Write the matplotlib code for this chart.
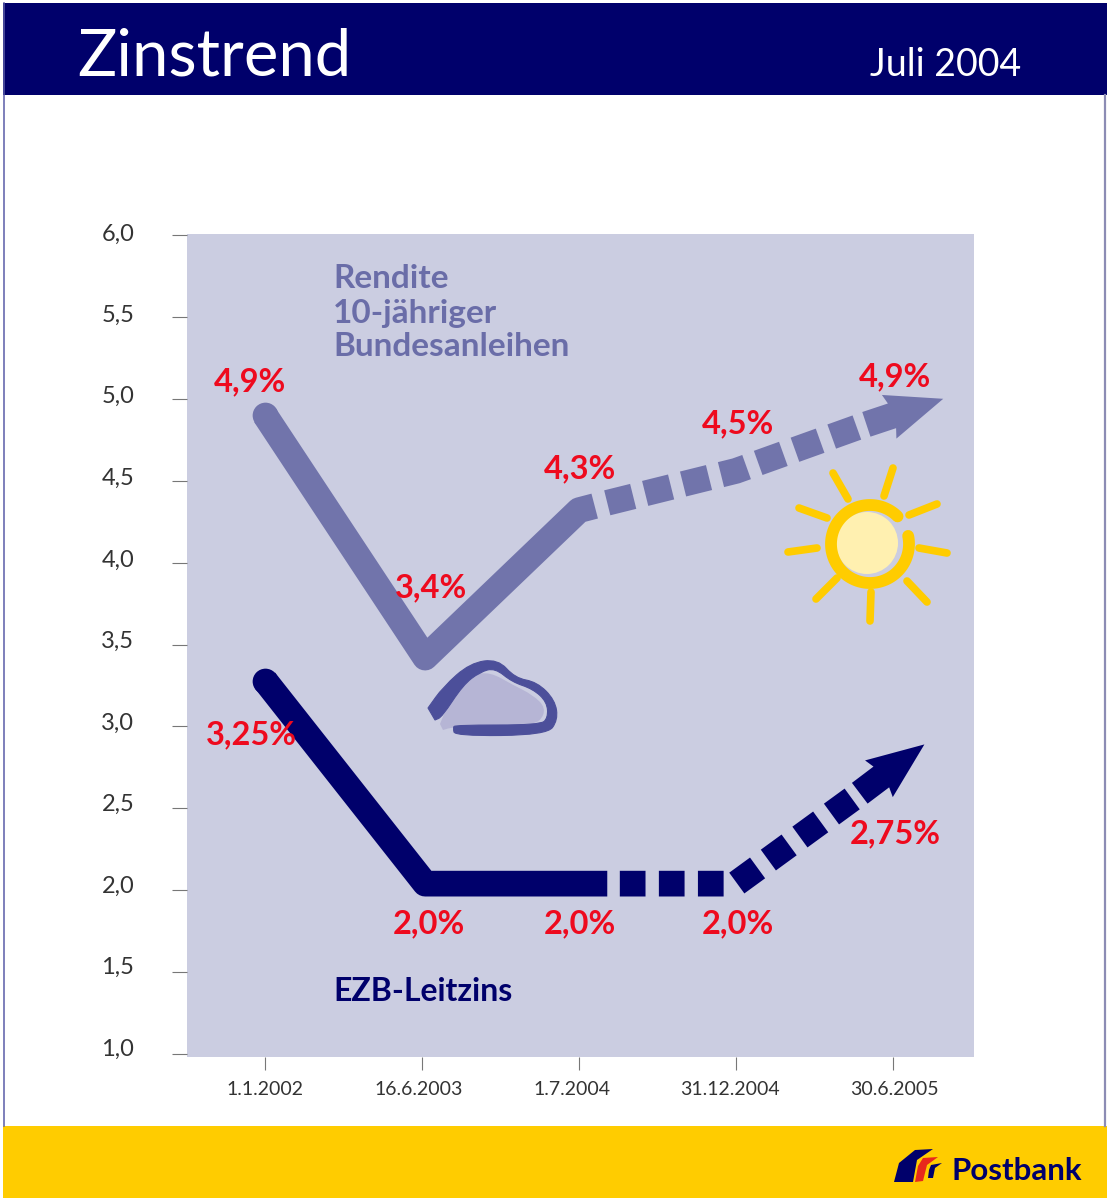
import matplotlib
matplotlib.use("Agg")
import matplotlib.pyplot as plt
import matplotlib.patches as patches
from matplotlib.path import Path
from matplotlib.transforms import IdentityTransform, ScaledTranslation
import numpy as np

W, H = 1109, 1200
FONT = ['Lato', 'DejaVu Sans']

# colours
NAVY = '#00006B'
YIELD_COL = '#7174AB'
PANEL = '#CBCDE1'
RED = '#EE0A1E'
YELLOW = '#FFCC00'

# axis
y_ticks = [1.0, 1.5, 2.0, 2.5, 3.0, 3.5, 4.0, 4.5, 5.0, 5.5, 6.0]
y_tick_labels = ['1,0', '1,5', '2,0', '2,5', '3,0', '3,5', '4,0', '4,5', '5,0', '5,5', '6,0']
y_label_shift = [7, 6.5, 6, 5.5, 5, 5, 4.5, 4, 4, 3.5, 3]
dates = ['1.1.2002', '16.6.2003', '1.7.2004', '31.12.2004', '30.6.2005']
date_pos = [0, 1, 2, 3, 4]
date_shift = [0, -3, -7, -6, 1]

# 10-year yield, as drawn (labels carry the printed numbers)
yield_solid_x = [0, 1.02, 2, 2.1]
yield_solid_y = [4.9, 3.42, 4.32, 4.345]
yield_dash_x = [2.18, 3, 3.78]
yield_dash_y = [4.365, 4.56, 4.828]
yield_tip = (4.32, 5.0)
yield_pts_x = [0, 1.02, 2, 3, 4]
yield_pts_y = [4.9, 3.42, 4.32, 4.56, 4.9]
yield_labels = ['4,9%', '3,4%', '4,3%', '4,5%', '4,9%']
yield_offsets = [(-15, 33), (6, 70), (1, 41), (2, 47), (2, 38)]

# ECB rate
ecb_solid_x = [0, 1.02, 2.18]
ecb_solid_y = [3.28, 2.04, 2.04]
ecb_dash_x = [2.26, 3, 3.74]
ecb_dash_y = [2.04, 2.04, 2.557]
ecb_tip = (4.2, 2.89)
ecb_pts_x = [0, 1.02, 2, 3, 4]
ecb_pts_y = [3.28, 2.04, 2.04, 2.04, 2.74]
ecb_labels = ['3,25%', '2,0%', '2,0%', '2,0%', '2,75%']
ecb_offsets = [(-14, -54), (4, -40), (1, -40), (2, -40), (2, -65)]


def arrow_head(ax, tail, tip, color, length=57, width=46, shaft=26, shaft_len=24):
    # head built in pixels so it stays the same shape whatever the axis scale
    a = ax.transData.transform(tail)
    b = ax.transData.transform(tip)
    d = (b - a) / np.hypot(*(b - a))
    n = np.array([-d[1], d[0]])
    neck = b - d * length
    notch = neck + d * 3
    back = neck - d * shaft_len
    pts = [b, neck + n * width / 2, notch + n * shaft / 2, back + n * shaft / 2,
           back - n * shaft / 2, notch - n * shaft / 2, neck - n * width / 2]
    ax.add_patch(patches.Polygon(pts, closed=True, facecolor=color, edgecolor='none',
                                 transform=IdentityTransform(), zorder=3))


def smooth(pts, closed=False):
    # quadratic curve through the midpoints of a rough outline
    pts = np.array(pts, float)
    mids = (pts[:-1] + pts[1:]) / 2
    verts = [pts[0], mids[0]]
    codes = [Path.MOVETO, Path.LINETO]
    for p, m in zip(pts[1:-1], mids[1:]):
        verts += [p, m]
        codes += [Path.CURVE3, Path.CURVE3]
    verts.append(pts[-1])
    codes.append(Path.LINETO)
    if closed:
        verts.append(pts[0])
        codes.append(Path.CLOSEPOLY)
    return Path(verts, codes)


fig = plt.figure(figsize=(W / 100, H / 100), dpi=100, facecolor='white')

# ---- chart ----
ax = fig.add_axes([187 / W, (H - 1057) / H, 787 / W, 823 / H], facecolor=PANEL)
ax.set_xlim((187 - 265) / 157, (974 - 265) / 157)
ax.set_ylim(6 - (1057 - 235) / 163.8, 6 + 1 / 163.8)
for s in ax.spines.values():
    s.set_visible(False)

ax.set_yticks(y_ticks)
ax.set_yticklabels(y_tick_labels, fontsize=17, color='#333333', family=FONT)
ax.set_xticks(date_pos)
ax.set_xticklabels(dates, fontsize=14, color='#333333', family=FONT)
ax.tick_params(axis='y', length=11, width=0.8, color='#777777', pad=27)
ax.tick_params(axis='x', length=9, width=0.8, color='#777777', pad=8)
for lab, dx in zip(ax.get_xticklabels(), date_shift):
    lab.set_transform(lab.get_transform() + ScaledTranslation(dx / 100, 0, fig.dpi_scale_trans))
for lab, dy in zip(ax.get_yticklabels(), y_label_shift):
    lab.set_transform(lab.get_transform() + ScaledTranslation(0, dy / 100, fig.dpi_scale_trans))

LW = 18.5
for xs, ys, col in [(yield_solid_x, yield_solid_y, YIELD_COL), (ecb_solid_x, ecb_solid_y, NAVY)]:
    ax.plot(xs, ys, color=col, lw=LW, solid_capstyle='butt', solid_joinstyle='round', zorder=2)
    ax.plot(xs[:1], ys[:1], 'o', color=col, ms=LW, mew=0, zorder=2)
ax.plot(yield_dash_x, yield_dash_y, color=YIELD_COL, lw=LW, dashes=(1.04, 0.48),
        dash_capstyle='butt', dash_joinstyle='miter', zorder=2)
ax.plot(ecb_dash_x, ecb_dash_y, color=NAVY, lw=LW, dashes=(1.0, 0.52),
        dash_capstyle='butt', dash_joinstyle='miter', zorder=2)
arrow_head(ax, (yield_dash_x[-1], yield_dash_y[-1]), yield_tip, YIELD_COL)
arrow_head(ax, (ecb_dash_x[-1], ecb_dash_y[-1]), ecb_tip, NAVY)

for x, y, t, off in zip(yield_pts_x, yield_pts_y, yield_labels, yield_offsets):
    ax.annotate(t, (x, y), xytext=off, textcoords='offset pixels', ha='center', va='center',
                color=RED, fontsize=23.5, fontweight='bold', family=FONT, zorder=5)
for x, y, t, off in zip(ecb_pts_x, ecb_pts_y, ecb_labels, ecb_offsets):
    ax.annotate(t, (x, y), xytext=off, textcoords='offset pixels', ha='center', va='center',
                color=RED, fontsize=23.5, fontweight='bold', family=FONT, zorder=5)

# ---- everything around the chart, in image pixels ----
deco = fig.add_axes([0, 0, 1, 1], zorder=3)
deco.patch.set_alpha(0)
deco.set_xlim(0, W)
deco.set_ylim(H, 0)
deco.axis('off')

deco.add_patch(patches.Rectangle((3, 3), 1104, 92, facecolor=NAVY, edgecolor='none'))
deco.add_patch(patches.Rectangle((3, 1126), 1104, 72, facecolor=YELLOW, edgecolor='none'))
deco.plot([3.5, 3.5], [3, 1126], color='#5A5CA8', lw=1.1)
deco.plot([1105, 1105], [95, 1126], color='#8C8CB4', lw=1.6)

deco.text(77, 76, 'Zinstrend', color='white', fontsize=47, family=FONT, va='baseline')
deco.text(1021, 76, 'Juli 2004', color='white', fontsize=27, family=FONT, va='baseline', ha='right')

for txt, yy in [('Rendite', 288), ('10-jähriger', 323), ('Bundesanleihen', 356)]:
    deco.text(333, yy, txt, color='#6A6DA8', fontsize=24, fontweight='bold', family=FONT, va='baseline')
deco.text(333, 1001, 'EZB-Leitzins', color=NAVY, fontsize=23, fontweight='bold', family=FONT, va='baseline')

# cloud
cloud_fill = [(440, 724), (451, 697), (472, 675), (490, 672), (513, 685), (533, 695),
              (546, 708), (540, 722), (527, 724), (453, 727), (443, 730)]
cloud_line = [(428, 708), (443, 687), (470, 663), (498, 659), (515, 678), (537, 682),
              (555, 700), (558, 720), (547, 735), (455, 736), (453, 728), (455, 725),
              (540, 725), (548, 718), (547, 702), (533, 689), (512, 682), (495, 668),
              (480, 672), (463, 685), (442, 717), (435, 720)]
deco.add_patch(patches.PathPatch(smooth(cloud_fill, closed=True), facecolor='#B6B5D5', edgecolor='none'))
deco.add_patch(patches.PathPatch(smooth(cloud_line, closed=True), facecolor='#4C4F9A', edgecolor='#4C4F9A', lw=0.8))

# sun
rays = [((833, 473), (848, 499)), ((893, 468), (884, 496)), ((937, 504), (909, 515)),
        ((919, 548), (947, 553)), ((907, 581), (927, 602)), ((871, 592), (870, 621)),
        ((837, 578), (816, 599)), ((817, 548), (788, 552)), ((827, 518), (799, 508))]
for (x0, y0), (x1, y1) in rays:
    deco.plot([x0, x1], [y0, y1], color=YELLOW, lw=5.5, solid_capstyle='round')
deco.add_patch(patches.Ellipse((867, 543), 62, 62, facecolor='#FFF0B0', edgecolor='none'))
theta = np.radians(np.linspace(45, 372, 120))
deco.plot(870 + 39 * np.cos(theta), 544 - 39 * np.sin(theta), color=YELLOW, lw=8.5, solid_capstyle='round')

# logo
blue_blade = [(894, 1182), (899, 1163), (915, 1150), (933, 1149), (917, 1160), (913, 1182)]
red_blade = [(915, 1182), (918, 1166), (923, 1158), (938, 1157), (927, 1165), (923, 1181)]
dark_blade = [(928, 1178), (929, 1170), (931, 1165), (942, 1163), (935, 1168), (933, 1178)]
for blade, col in [(blue_blade, NAVY), (red_blade, '#E8291C'), (dark_blade, NAVY)]:
    deco.add_patch(patches.Polygon(blade, closed=True, facecolor=col, edgecolor='none'))
deco.text(952, 1180, 'Postbank', color=NAVY, fontsize=22.5, fontweight='bold', family=FONT, va='baseline')

fig.savefig('out.png', dpi=100)
